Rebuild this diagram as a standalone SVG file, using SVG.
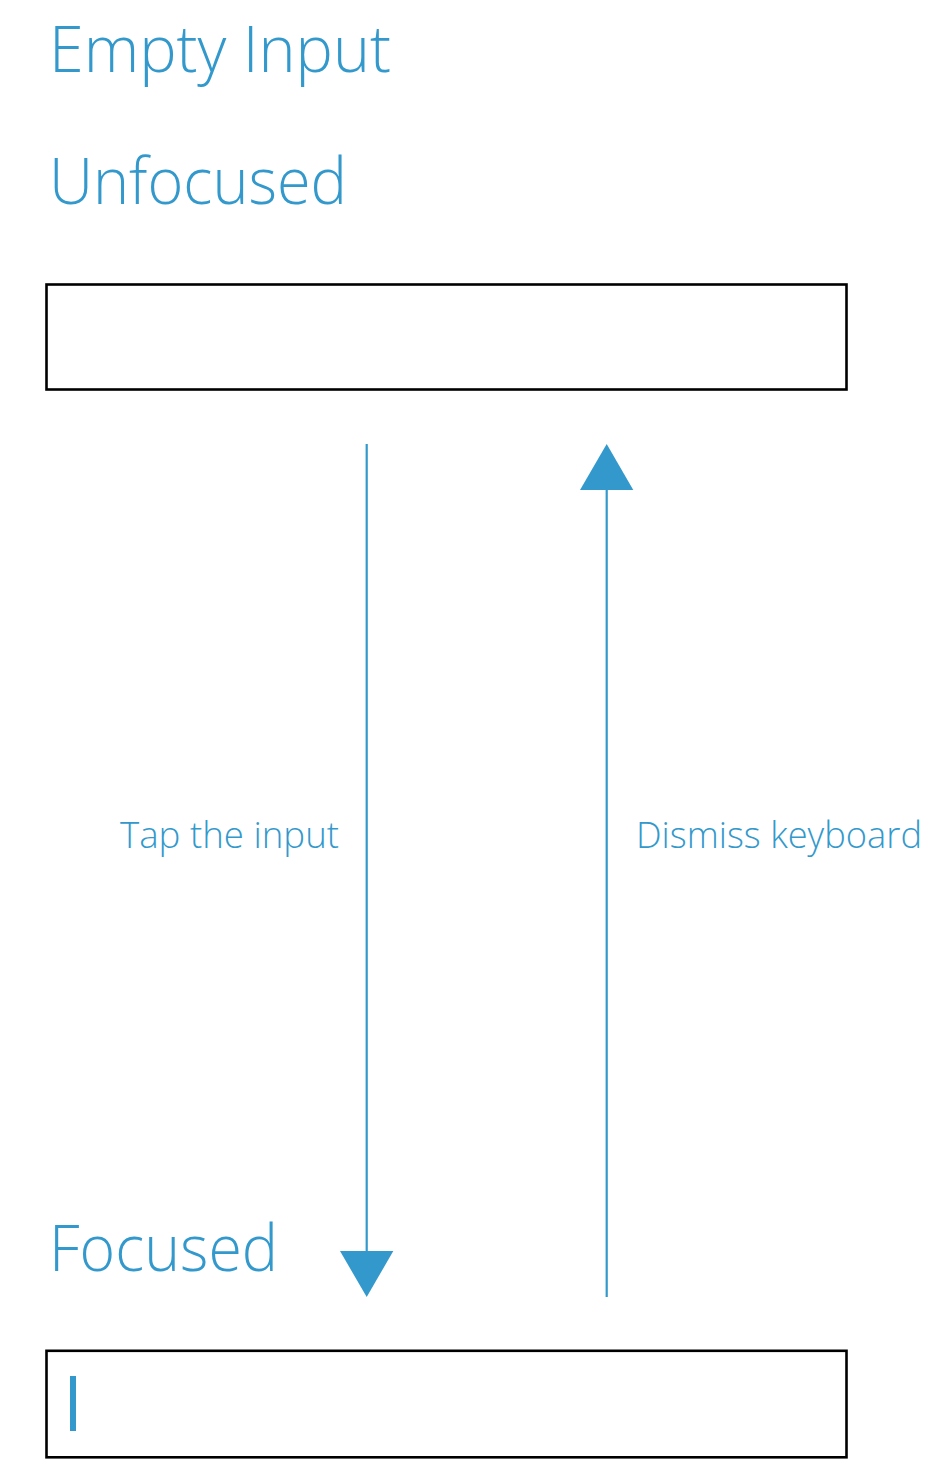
<svg xmlns="http://www.w3.org/2000/svg" width="938" height="1461" viewBox="0 0 938 1461">
<style>
.t{font-family:"Open Sans","Noto Sans","Liberation Sans",sans-serif;font-weight:300;fill:#3399cc}
.h{font-size:64px}
.l{font-size:36px}
.box{fill:#fff;stroke:#000;stroke-width:2.6}
.c{stroke:#3399cc;stroke-width:2.2;fill:none}
.ah{fill:#3399cc}
</style>
<rect width="938" height="1461" fill="#fff"/>
<g id="title"><text class="t h" x="49" y="72" textLength="342" lengthAdjust="spacingAndGlyphs">Empty Input</text></g>
<g id="unfocused">
<text class="t h" x="49" y="204" textLength="298" lengthAdjust="spacingAndGlyphs">Unfocused</text>
<rect class="box" x="46.5" y="284.5" width="800" height="105"/>
</g>
<g id="focused">
<text class="t h" x="49" y="1271" textLength="229" lengthAdjust="spacingAndGlyphs">Focused</text>
<rect class="box" x="46.5" y="1350.8" width="800" height="106.5"/>
<rect x="70" y="1376" width="6" height="55" fill="#3399cc"/>
</g>
<g id="connectors">
<line class="c" x1="366.7" y1="444" x2="366.7" y2="1254"/>
<polygon class="ah" points="340,1251 393.3,1251 366.7,1297"/>
<text class="t l" x="339" y="848" text-anchor="end" textLength="219" lengthAdjust="spacingAndGlyphs">Tap the input</text>
<line class="c" x1="606.7" y1="488" x2="606.7" y2="1297"/>
<polygon class="ah" points="606.7,444 633.3,490 580,490"/>
<text class="t l" x="636" y="848" textLength="286" lengthAdjust="spacingAndGlyphs">Dismiss keyboard</text>
</g>
</svg>
